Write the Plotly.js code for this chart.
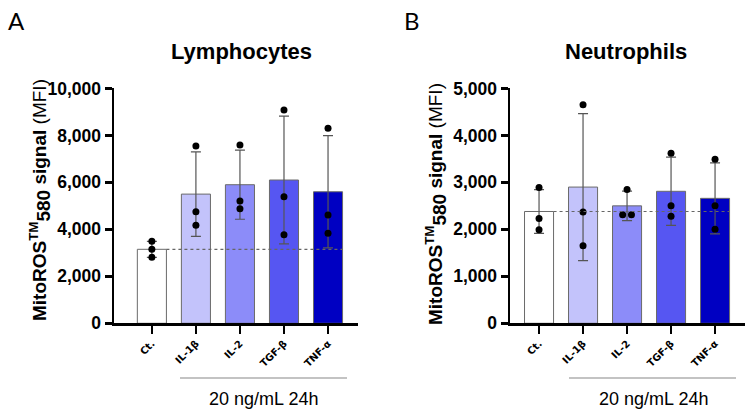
<!DOCTYPE html>
<html>
<head>
<meta charset="utf-8">
<script src="https://cdn.plot.ly/plotly-3.0.1.min.js"></script>
<style>html,body{margin:0;padding:0;background:#fff}#chart{width:750px;height:417px}</style>
</head>
<body>
<div id="chart"></div>
<script>
// ---- data ----
var categories = ["Ct.", "IL-1β", "IL-2", "TGF-β", "TNF-α"];
var barColors = ["#ffffff", "#c3c3fb", "#8c8cf9", "#5656f2", "#0000c2"];

var lymphMean = [3150, 5500, 5900, 6100, 5600];
var lymphSD = [340, 1800, 1470, 2720, 2390];
var lymphPoints = [
  [3490, 3150, 2810],
  [7550, 4750, 4170],
  [7590, 5210, 4880],
  [9080, 5390, 3770],
  [8300, 4610, 3830]
];
var lymphJitter = [[0,0,0],[0,0,0],[0,0,0],[0,0,0],[0,0,0]];

var neutMean = [2380, 2900, 2500, 2810, 2660];
var neutSD = [465, 1565, 315, 725, 755];
var neutPoints = [
  [2890, 2230, 1990],
  [4650, 2370, 1650],
  [2850, 2310, 2310],
  [3620, 2500, 2280],
  [3490, 2500, 2000]
];
var neutJitter = [[0,0,0],[0,0,0],[0,-0.1,0.1],[0,0,0],[0,0,0]];

var yTickLymph = [0, 2000, 4000, 6000, 8000, 10000];
var yTickNeut = [0, 1000, 2000, 3000, 4000, 5000];
var groupLabel = "20 ng/mL 24h";
var panelTitles = ["Lymphocytes", "Neutrophils"];
var panelLetters = ["A", "B"];
var yTitle = '<b>MitoROS<sup>TM</sup><sub><span style="font-size:19px">580</span></sub> signal</b> (MFI)';

// ---- build ----
var idx = categories.map(function(_, i){ return i; });
var FONT = "Arial, 'Liberation Sans', sans-serif";

function barTrace(means, sds, xa, ya){
  return {
    type: "bar", x: idx, y: means, xaxis: xa, yaxis: ya,
    marker: {color: barColors, line: {color: "#6a6a6a", width: 1}},
    error_y: {type: "data", array: sds, visible: true, color: "#555555", thickness: 1.2, width: 5},
    hoverinfo: "skip", showlegend: false
  };
}
function pointTrace(points, jitter, xa, ya){
  var xs = [], ys = [];
  points.forEach(function(arr, i){
    arr.forEach(function(v, j){ xs.push(i + jitter[i][j]); ys.push(v); });
  });
  return {
    type: "scatter", mode: "markers", x: xs, y: ys, xaxis: xa, yaxis: ya,
    marker: {color: "#000000", size: 7}, hoverinfo: "skip", showlegend: false
  };
}

var data = [
  barTrace(lymphMean, lymphSD, "x", "y"),
  pointTrace(lymphPoints, lymphJitter, "x", "y"),
  barTrace(neutMean, neutSD, "x2", "y2"),
  pointTrace(neutPoints, neutJitter, "x2", "y2")
];

var yDomain = [0.2247, 0.788];
function xAxis(domain, range, anchor){
  return {
    domain: domain, range: range, anchor: anchor,
    tickvals: idx, ticktext: categories, tickangle: -45,
    tickfont: {family: "'DejaVu Sans', Verdana, sans-serif", size: 10, color: "#000", weight: "bold"},
    showline: true, linecolor: "#000", linewidth: 2.5,
    ticks: "outside", ticklen: 8, tickwidth: 2.5, tickcolor: "#000",
    showgrid: false, zeroline: false, fixedrange: true
  };
}
function yAxis(range, tickvals, anchor){
  return {
    domain: yDomain, range: range, tickvals: tickvals, anchor: anchor,
    tickformat: ",d",
    tickfont: {family: FONT, size: 17.5, color: "#000", weight: "bold"},
    showline: true, linecolor: "#000", linewidth: 2.5,
    ticks: "outside", ticklen: 7, tickwidth: 2.5, tickcolor: "#000",
    showgrid: false, zeroline: false, fixedrange: true
  };
}

var barW = 0.66;
var layout = {
  width: 750, height: 417,
  margin: {l: 0, r: 0, t: 0, b: 0},
  paper_bgcolor: "#fff", plot_bgcolor: "rgba(0,0,0,0)",
  bargap: 1 - barW,
  showlegend: false,
  font: {family: FONT, color: "#000"},
  xaxis: xAxis([0.152, 0.4773], [-0.86, 4.68], "y"),
  yaxis: yAxis([0, 10000], yTickLymph, "x"),
  xaxis2: xAxis([0.68, 0.9933], [-0.66, 4.68], "y2"),
  yaxis2: yAxis([0, 5000], yTickNeut, "x2"),
  shapes: [
    {type: "line", xref: "x", yref: "y", x0: barW/2, x1: 4 + barW/2, y0: lymphMean[0], y1: lymphMean[0],
     line: {color: "#666", width: 1.2, dash: "dot"}},
    {type: "line", xref: "x2", yref: "y2", x0: barW/2, x1: 4 + barW/2, y0: neutMean[0], y1: neutMean[0],
     line: {color: "#666", width: 1.2, dash: "dot"}},
    {type: "line", xref: "paper", yref: "paper", x0: 180/750, x1: 347/750, y0: 1 - 378/417, y1: 1 - 378/417,
     line: {color: "#888", width: 1.2}},
    {type: "line", xref: "paper", yref: "paper", x0: 569/750, x1: 736/750, y0: 1 - 378/417, y1: 1 - 378/417,
     line: {color: "#888", width: 1.2}}
  ],
  annotations: [
    {text: panelLetters[0], xref: "paper", yref: "paper", x: 6/750, y: 1 - 4/417, xanchor: "left", yanchor: "top",
     showarrow: false, font: {family: "Lato, 'Open Sans', sans-serif", size: 24, color: "#000"}},
    {text: panelLetters[1], xref: "paper", yref: "paper", x: 402/750, y: 1 - 4/417, xanchor: "left", yanchor: "top",
     showarrow: false, font: {family: "Lato, 'Open Sans', sans-serif", size: 24, color: "#000"}},
    {text: "<b>" + panelTitles[0] + "</b>", xref: "paper", yref: "paper", x: 241/750, y: 1 - 51/417,
     xanchor: "center", yanchor: "middle", showarrow: false, font: {family: FONT, size: 22, color: "#000"}},
    {text: "<b>" + panelTitles[1] + "</b>", xref: "paper", yref: "paper", x: 626/750, y: 1 - 51/417,
     xanchor: "center", yanchor: "middle", showarrow: false, font: {family: FONT, size: 22, color: "#000"}},
    {text: yTitle, xref: "paper", yref: "paper", x: 40/750, y: 1 - 200/417, textangle: -90,
     xanchor: "center", yanchor: "middle", showarrow: false, font: {family: FONT, size: 19, color: "#000"}},
    {text: yTitle, xref: "paper", yref: "paper", x: 436/750, y: 1 - 204/417, textangle: -90,
     xanchor: "center", yanchor: "middle", showarrow: false, font: {family: FONT, size: 19, color: "#000"}},
    {text: groupLabel, xref: "paper", yref: "paper", x: 263/750, y: 1 - 399/417,
     xanchor: "center", yanchor: "middle", showarrow: false, font: {family: FONT, size: 18, color: "#000"}},
    {text: groupLabel, xref: "paper", yref: "paper", x: 653/750, y: 1 - 399/417,
     xanchor: "center", yanchor: "middle", showarrow: false, font: {family: FONT, size: 18, color: "#000"}}
  ]
};

Plotly.newPlot("chart", data, layout, {displayModeBar: false, staticPlot: true});
</script>
</body>
</html>
